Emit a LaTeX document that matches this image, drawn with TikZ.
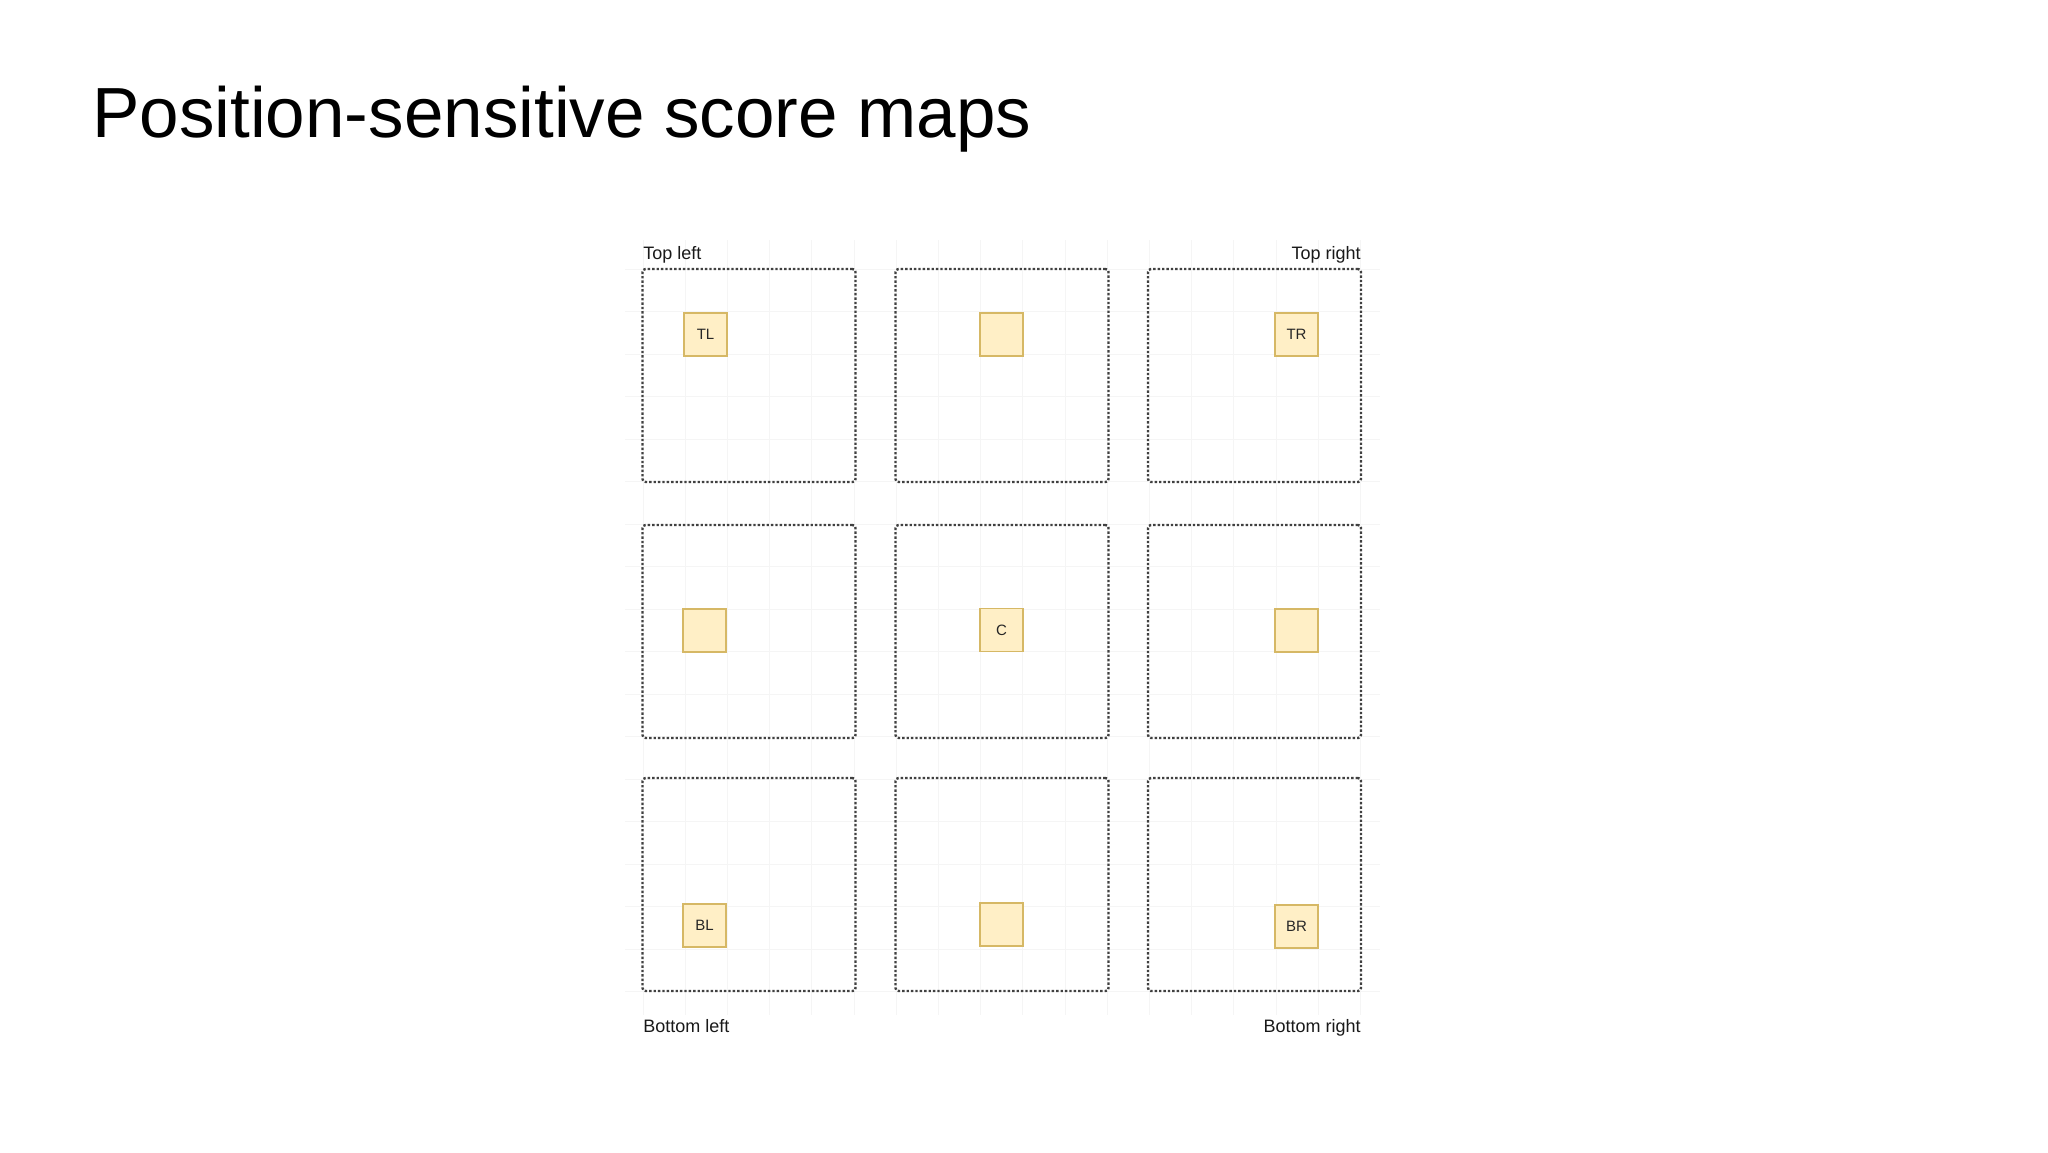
\documentclass[tikz,border=0pt]{standalone}
\usepackage{fontspec}
\setmainfont{Liberation Sans}

\definecolor{cellfill}{HTML}{FFEFC6}
\definecolor{cellborder}{HTML}{D6B865}

\tikzstyle{scoremap}=[draw=black!75, densely dotted, line width=1.2pt, rounded corners=1.5pt, minimum size=106.5pt, inner sep=0pt]
\tikzstyle{cell}=[draw=cellborder, fill=cellfill, line width=0.8pt, minimum size=21.5pt, inner sep=0pt, font=\fontsize{7.5}{8}\selectfont, text=black!85]
\tikzstyle{corner}=[font=\fontsize{9}{10}\selectfont, inner sep=0pt, text=black!90]
\tikzstyle{gridline}=[draw=black!4, line width=0.5pt]

\begin{document}
\begin{tikzpicture}[x=0.5pt, y=-0.5pt]
\useasboundingbox (0,0) rectangle (2048,1152);

\node[anchor=base west, inner sep=0pt, font=\fontsize{35.5}{40}\selectfont] (title) at (92,137) {Position-sensitive score maps};

% faint background grid
\foreach \k in {0,...,17}{
  \draw[gridline] (643+\k*42.2,240) -- (643+\k*42.2,1015);
}
\foreach \k in {0,...,17}{
  \draw[gridline] (625,269+\k*42.5) -- (1380,269+\k*42.5);
}

% the nine score maps
\foreach \r/\y in {1/375.5,2/631.5,3/884.5}{\foreach \c/\x in {1/749,2/1002,3/1254.5}{
  \node[scoremap] (map-\r-\c) at (\x,\y) {};
}}

% the pooled cells
\foreach \r/\c/\x/\y/\lbl in {1/1/705.5/334.5/TL, 1/2/1001.5/334.5/, 1/3/1296.5/334.5/TR,
                            2/1/704.5/630.5/, 2/2/1001.5/630/C, 2/3/1296.5/630.5/,
                            3/1/704.5/925.5/BL, 3/2/1001.5/924.5/, 3/3/1296.5/926.5/BR}{
  \node[cell] (cell-\r-\c) at (\x,\y) {\lbl};
}

\node[corner, anchor=base west] (topleft) at (643,259) {Top left};
\node[corner, anchor=base east] (topright) at (1361,259) {Top right};
\node[corner, anchor=base west] (bottomleft) at (643,1032) {Bottom left};
\node[corner, anchor=base east] (bottomright) at (1361,1032) {Bottom right};

\end{tikzpicture}
\end{document}
